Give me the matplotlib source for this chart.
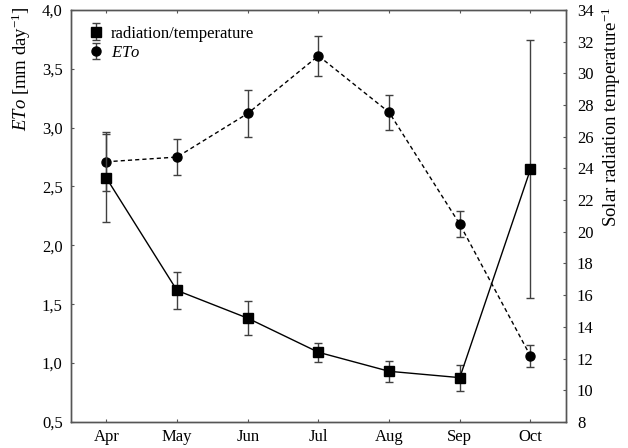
import numpy as np
import matplotlib
matplotlib.use("Agg")
import matplotlib.pyplot as plt

months = ['Apr', 'May', 'Jun', 'Jul', 'Aug', 'Sep', 'Oct']
eto = [2.71, 2.75, 3.12, 3.61, 3.13, 2.18, 1.06]
eto_err = [0.25, 0.15, 0.20, 0.17, 0.15, 0.11, 0.09]
rad = [23.4, 16.3, 14.55, 12.4, 11.2, 10.8, 23.95]
rad_err = [2.8, 1.17, 1.08, 0.6, 0.65, 0.82, 8.15]
left_ticks = [0.5, 1.0, 1.5, 2.0, 2.5, 3.0, 3.5, 4.0]
right_ticks = list(range(8, 35, 2))

plt.rcParams['font.family'] = ['Liberation Serif', 'DejaVu Serif']
plt.rcParams['mathtext.fontset'] = 'custom'
plt.rcParams['mathtext.rm'] = 'Liberation Serif'
plt.rcParams['mathtext.it'] = 'Liberation Serif:italic'

spine_c = '#555555'
err_c = '#404040'

fig = plt.figure(figsize=(6.28, 4.48), dpi=100)
ax = fig.add_axes([0.113, 0.058, 0.788, 0.920])
ax2 = ax.twinx()

x = np.arange(len(months))

ax.errorbar(x, eto, yerr=eto_err, fmt='o', color='black', ms=6.5,
            linestyle=(0, (3, 2.2)), lw=1.0, ecolor=err_c, elinewidth=1.0,
            capsize=3, capthick=1.0, zorder=3)
ax2.errorbar(x, rad, yerr=rad_err, fmt='s', color='black', ms=6.5,
             linestyle='-', lw=1.0, ecolor=err_c, elinewidth=1.0,
             capsize=3, capthick=1.0, zorder=3)

ax.set_xlim(-0.5, len(months) - 0.5)
ax.set_ylim(0.5, 4.0)
ax2.set_ylim(8, 34)
ax.set_xticks(x)
ax.set_xticklabels(months)
ax.set_yticks(left_ticks)
ax.set_yticklabels([f"{v:.1f}".replace('.', ',') for v in left_ticks])
ax2.set_yticks(right_ticks)
ax2.set_yticklabels([str(v) for v in right_ticks])

for a in (ax, ax2):
    for s in a.spines.values():
        s.set_color(spine_c)
        s.set_linewidth(1.0)
ax.tick_params(axis='both', direction='in', length=2, color=spine_c,
               labelsize=12, top=True)
ax.tick_params(axis='y', pad=6)
ax.tick_params(axis='x', pad=5)
ax2.tick_params(axis='y', direction='in', length=2, color=spine_c,
                labelsize=12, pad=8)

ax.set_ylabel('$ETo$ [mm day$^{\\mathrm{-1}}$]', fontsize=13.5)
ax.yaxis.set_label_coords(-0.077, 0.858)
ax2.set_ylabel('Solar radiation temperature$^{\\mathrm{-1}}$', fontsize=13.5)
ax2.yaxis.set_label_coords(1.068, 0.74)

h1 = ax2.errorbar([np.nan], [np.nan], yerr=[1], fmt='s', color='black', ms=6.5,
                  ecolor=err_c, elinewidth=1.0, capsize=3, capthick=1.0)
h2 = ax2.errorbar([np.nan], [np.nan], yerr=[1], fmt='o', color='black', ms=6.5,
                  ecolor=err_c, elinewidth=1.0, capsize=3, capthick=1.0)
leg = ax2.legend([h1, h2], ['radiation/temperature', '$ETo$'], loc='upper left',
                 frameon=False, fontsize=12, handlelength=1.0,
                 handletextpad=0.4, labelspacing=0.2,
                 bbox_to_anchor=(0.01, 0.99), borderaxespad=0.3)

fig.savefig('out.png', dpi=100)
